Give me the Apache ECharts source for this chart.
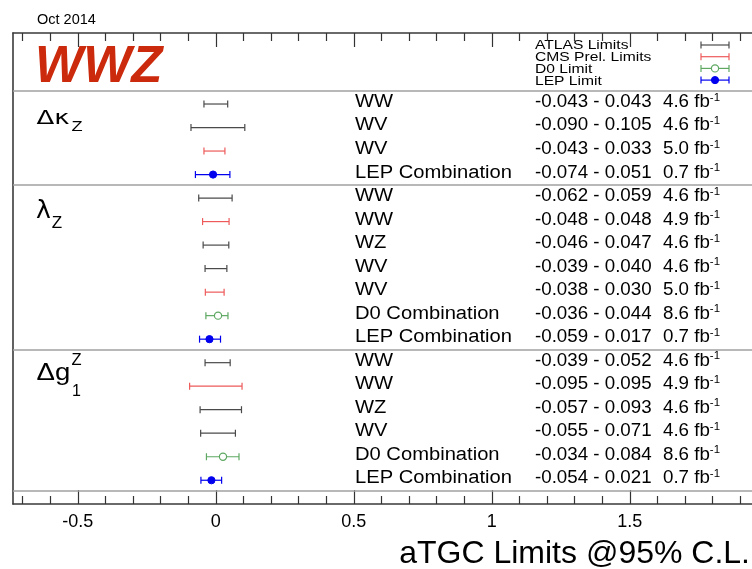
<!DOCTYPE html>
<html>
<head>
<meta charset="utf-8">
<script src="https://cdn.jsdelivr.net/npm/echarts@6/dist/echarts.min.js"></script>
<style>
  html, body { margin: 0; padding: 0; background: #fff; }
  #chart { width: 752px; height: 569px; }
</style>
</head>
<body>
<div id="chart"></div>
<script>
// Anomalous triple gauge coupling limits, one row per measurement
const processes = ['WW', 'WV', 'WV', 'LEP Combination',
  'WW', 'WW', 'WZ', 'WV', 'WV', 'D0 Combination', 'LEP Combination',
  'WW', 'WW', 'WZ', 'WV', 'D0 Combination', 'LEP Combination'];
const experiments = ['ATLAS', 'ATLAS', 'CMS', 'LEP',
  'ATLAS', 'CMS', 'ATLAS', 'ATLAS', 'CMS', 'D0', 'LEP',
  'ATLAS', 'CMS', 'ATLAS', 'ATLAS', 'D0', 'LEP'];
const lowerLimits = [-0.043, -0.090, -0.043, -0.074,
  -0.062, -0.048, -0.046, -0.039, -0.038, -0.036, -0.059,
  -0.039, -0.095, -0.057, -0.055, -0.034, -0.054];
const upperLimits = [0.043, 0.105, 0.033, 0.051,
  0.059, 0.048, 0.047, 0.040, 0.030, 0.044, 0.017,
  0.052, 0.095, 0.093, 0.071, 0.084, 0.021];
// best-fit points shown for the combinations only
const centralValues = [null, null, null, -0.010,
  null, null, null, null, null, 0.008, -0.023,
  null, null, null, null, 0.026, -0.016];
const luminosities = ['4.6', '4.6', '5.0', '0.7',
  '4.6', '4.9', '4.6', '4.6', '5.0', '8.6', '0.7',
  '4.6', '4.9', '4.6', '4.6', '8.6', '0.7'];

// group boundaries (in row units)
const separators = [-0.58, 3.45, 10.45, 16.45];
const majorTicks = [-0.5, 0, 0.5, 1, 1.5];
const minorTicks = [-0.7, -0.6, -0.4, -0.3, -0.2, -0.1, 0.1, 0.2, 0.3, 0.4,
  0.6, 0.7, 0.8, 0.9, 1.1, 1.2, 1.3, 1.4, 1.6, 1.7, 1.8, 1.9];

const legendNames = ['ATLAS Limits', 'CMS Prel. Limits', 'D0 Limit', 'LEP Limit'];
const legendKeys = ['ATLAS', 'CMS', 'D0', 'LEP'];

const styles = {
  ATLAS: { color: '#4a4a4a', marker: null },
  CMS:   { color: '#ee5a5a', marker: null },
  D0:    { color: '#5ea862', marker: 'open' },
  LEP:   { color: '#0000ee', marker: 'filled' }
};

const FONT = '"Liberation Sans", Arial, Helvetica, sans-serif';
const GREEK = '"DejaVu Sans", sans-serif';
const FRAME = { color: '#3a3a3a', width: 1.6 };
const X_MIN = -0.735, X_MAX = 1.943;

const rows = processes.map((p, i) => [
  lowerLimits[i], upperLimits[i], i,
  centralValues[i] === null ? '-' : centralValues[i]
]);

function errorBarShape(cx1, cx2, cy, color, marker, cm) {
  const ch = 3.5;
  const kids = [
    { type: 'line', shape: { x1: cx1, y1: cy, x2: cx2, y2: cy }, style: { stroke: color, lineWidth: 1.2 } },
    { type: 'line', shape: { x1: cx1, y1: cy - ch, x2: cx1, y2: cy + ch }, style: { stroke: color, lineWidth: 1.2 } },
    { type: 'line', shape: { x1: cx2, y1: cy - ch, x2: cx2, y2: cy + ch }, style: { stroke: color, lineWidth: 1.2 } }
  ];
  if (marker && !isNaN(cm)) {
    kids.push({
      type: 'circle', shape: { cx: cm, cy: cy, r: 3.6 },
      style: marker === 'filled'
        ? { fill: color, stroke: color, lineWidth: 1 }
        : { fill: '#fff', stroke: color, lineWidth: 1.2 }
    });
  }
  return kids;
}

function renderRow(params, api) {
  const i = params.dataIndex;
  const lo = api.coord([api.value(0), api.value(2)]);
  const hi = api.coord([api.value(1), api.value(2)]);
  const cv = api.value(3);
  const cm = isNaN(cv) ? NaN : api.coord([cv, api.value(2)])[0];
  const st = styles[experiments[i]];
  const y = lo[1];
  const children = errorBarShape(lo[0], hi[0], y, st.color, st.marker, cm);
  const textBase = { fill: '#000', fontFamily: FONT, fontSize: 18, verticalAlign: 'middle', align: 'left' };
  children.push({
    type: 'text', x: 355, y: y - 2, scaleX: 1.12,
    style: Object.assign({ text: processes[i] }, textBase)
  });
  children.push({
    type: 'text', x: 535, y: y - 2, scaleX: 1.04,
    style: Object.assign({ text: api.value(0).toFixed(3) + ' - ' + api.value(1).toFixed(3) }, textBase)
  });
  children.push({
    type: 'text', x: 663, y: y - 2, scaleX: 1.04,
    style: {
      text: '{n|' + luminosities[i] + ' fb}{s|-1}',
      fontFamily: FONT, verticalAlign: 'middle', align: 'left',
      rich: {
        n: { fontSize: 18, fill: '#000', fontFamily: FONT, lineHeight: 20 },
        s: { fontSize: 11, fill: '#000', fontFamily: FONT, verticalAlign: 'top', lineHeight: 12 }
      }
    }
  });
  return { type: 'group', children: children };
}

const chart = echarts.init(document.getElementById('chart'), null, { renderer: 'canvas' });

function xAxisDef(position, ticks, len, showLabels, showLine) {
  return {
    type: 'value', position: position, min: X_MIN, max: X_MAX,
    axisLine: { show: showLine, onZero: false, lineStyle: FRAME },
    splitLine: { show: false },
    axisTick: { show: true, inside: true, length: len, customValues: ticks, lineStyle: { color: '#333', width: 1.2 } },
    axisLabel: showLabels
      ? { show: true, customValues: ticks, fontSize: 18, color: '#000', fontFamily: FONT, margin: 9,
          formatter: v => String(v) }
      : { show: false }
  };
}

function plainText(x, y, text, size, family, scaleX) {
  return {
    type: 'text', x: x, y: y, scaleX: scaleX || 1,
    style: { text: text, fontSize: size, fontFamily: family, fill: '#000', verticalAlign: 'middle', align: 'left' }
  };
}

// legend entries drawn in the header band
const legendGraphics = [];
legendKeys.forEach((k, j) => {
  const ly = 45 + j * 11.7;
  legendGraphics.push(plainText(535, ly + 1, legendNames[j], 12.5, FONT, 1.25));
  const st = styles[k];
  legendGraphics.push({
    type: 'group',
    children: errorBarShape(701, 729, ly, st.color, st.marker, 715)
  });
});

const option = {
  animation: false,
  backgroundColor: '#fff',
  grid: {
    left: 13, width: 740, top: 33, bottom: 65, show: false
  },
  xAxis: [
    xAxisDef('bottom', majorTicks, 14, true, true),
    xAxisDef('bottom', minorTicks, 8, false, false),
    xAxisDef('top', majorTicks, 14, false, true),
    xAxisDef('top', minorTicks, 8, false, false)
  ],
  yAxis: {
    type: 'value', min: -3.02, max: 17.01, inverse: true, position: 'left',
    axisLine: { show: true, onZero: false, lineStyle: FRAME },
    axisTick: { show: false }, axisLabel: { show: false }, splitLine: { show: false }
  },
  series: [{
    type: 'custom',
    renderItem: renderRow,
    encode: { x: [0, 1], y: 2 },
    data: rows,
    clip: false,
    markLine: {
      silent: true, symbol: ['none', 'none'],
      label: { show: false },
      lineStyle: { color: '#a0a0a0', width: 1.6, type: 'solid' },
      data: separators.map(s => ({ yAxis: s }))
    }
  }],
  graphic: [
    plainText(37, 20, 'Oct 2014', 14.5, FONT, 1),
    { type: 'text', x: 35, y: 68, style: { text: 'WWZ', fontFamily: FONT, fontSize: 51, fontWeight: 'bold', fontStyle: 'italic', fill: '#cc2a0c', verticalAlign: 'middle' } },
    // coupling names
    plainText(36.5, 118.5, 'Δκ', 20, GREEK, 1.3),
    plainText(71.5, 127.5, 'Z', 14, FONT, 1.3),
    { type: 'text', x: 36, y: 196, style: {
        text: '{g|λ}{s|Z}', rich: {
          g: { fontSize: 25, fontFamily: GREEK, fill: '#000', lineHeight: 30 },
          s: { fontSize: 17, fontFamily: FONT, fill: '#000', verticalAlign: 'bottom', lineHeight: 20, padding: [0, 0, -6, 1] }
        } } },
    plainText(36.5, 374, 'Δg', 23, FONT, 1.2),
    plainText(71.5, 360, 'Z', 16.5, FONT, 1),
    plainText(72, 392, '1', 16, FONT, 1),
    { type: 'text', x: 750, y: 554, style: { text: 'aTGC Limits @95% C.L.', fontFamily: FONT, fontSize: 32, fill: '#000', align: 'right', verticalAlign: 'middle' } }
  ].concat(legendGraphics)
};

chart.setOption(option);
</script>
</body>
</html>
